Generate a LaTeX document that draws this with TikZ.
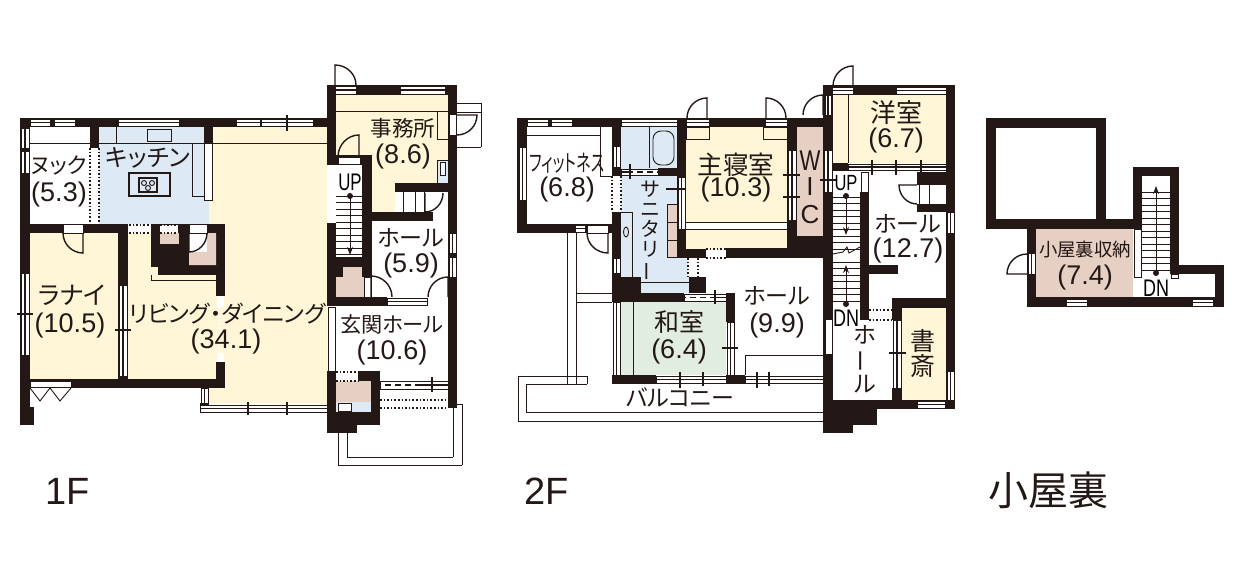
\documentclass[tikz,border=0pt]{standalone}
\usepackage{fontspec}
\setmainfont{Liberation Sans}
\newfontfamily\jpfont{Noto Sans CJK JP}[RawFeature=+palt]
\usetikzlibrary{arrows.meta}
\definecolor{wallc}{HTML}{231815}
\definecolor{roomy}{HTML}{FFF6D8}
\definecolor{roomb}{HTML}{DDE9F5}
\definecolor{roomp}{HTML}{E6CFC3}
\definecolor{roomg}{HTML}{E1EDE0}
\newcommand{\turned}[1]{\rotatebox[origin=c]{90}{#1}}

\begin{document}
\begin{tikzpicture}[x=0.5pt, y=-0.5pt,
  wall/.style = {fill=wallc},
  fine/.style = {draw=wallc, line width=0.45pt},
  winedge/.style = {draw=wallc, line width=0.4pt, fill=white},
  winmid/.style = {draw=wallc, line width=0.7pt},
  opening/.style = {draw=wallc, line width=0.8pt, densely dotted},
  flight/.style = {-{Stealth[length=4pt, width=3pt]}, draw=wallc, line width=0.5pt},
  ja/.style = {inner sep=0pt, text=wallc, font=\jpfont\fontsize{#1}{#1}\selectfont},
  ja/.default = 11.5,
  num/.style = {inner sep=0pt, text=wallc, font=\fontsize{13.5}{13.5}\selectfont},
  tag/.style = {inner sep=0pt, text=wallc, font=\fontsize{19}{19}\selectfont},
  stack/.style = {ja=#1, align=center}]

  \useasboundingbox (0,0) rectangle (1240,572);

  % room colours
  \fill[roomy] (209,127) rectangle (327,404);
  \fill[roomy] (128,233) rectangle (216,379);
  \fill[roomy] (30,233) rectangle (118,379);
  \fill[roomb] (99,127) rectangle (209,224);
  \fill[roomy] (336,95) -- (448,95) -- (448,183) -- (395,183) -- (395,212) -- (372,212) -- (372,155) -- (336,155) -- cycle;
  \fill[roomb] (437,160) rectangle (448,183);
  \fill[roomp] (343,267) -- (364,267) -- (364,297) -- (336,297) -- (336,277) -- (343,277) -- cycle;
  \fill[roomp] (336,381) rectangle (371,402);
  \fill[roomb] (336,402) rectangle (371,412);
  \fill[roomb] (621,127) -- (677,127) -- (677,258) -- (689,258) -- (689,293) -- (621,293) -- cycle;
  \fill[roomy] (686,127) rectangle (787,249);
  \fill[roomp] (797,127) rectangle (823,236);
  \fill[roomy] (833,95) rectangle (946,163);
  \fill[roomg] (621,302) rectangle (726,375);
  \fill[roomy] (902,308) rectangle (946,400);
  \fill[roomp] (1036,229) rectangle (1133,297);

  % walls
  \foreach \xa/\ya/\xb/\yb in {20/118/327/127, 20/118/30/425, 20/407/34/425, 20/224/128/233,
    118/224/128/388, 20/379/225/388, 90/127/99/148, 204/127/213/143, 151/224/225/275,
    216/224/225/296, 216/362/225/388, 327/85/336/165, 327/223/336/306, 327/371/336/433,
    327/85/457/95, 448/85/457/408, 336/155/372/165, 362/155/372/277, 395/183/457/192,
    372/212/433/221, 336/257/362/267, 336/266/343/277, 327/297/387/306, 358/371/380/381,
    371/381/380/425, 327/412/357/433, 357/412/380/425,
    200/403/209/413,
    517/118/686/127, 517/118/527/233, 517/224/612/233, 612/118/621/176, 612/212/621/302,
    612/277/641/302, 689/277/706/293, 612/293/684/302, 677/118/686/258, 677/249/706/258,
    726/248/823/258, 677/118/833/127, 787/118/797/258, 787/236/833/258, 823/85/833/433,
    823/85/955/95, 946/85/955/408, 658/168/686/176, 726/293/735/322, 726/375/745/384,
    612/375/656/384, 833/163/848/171, 860/192/869/320, 892/298/955/308, 892/298/902/320,
    892/388/902/400, 823/400/955/409, 823/400/877/425, 823/400/853/433, 917/172/955/185,
    917/204/955/212, 869/265/898/274,
    986/118/1106/128, 986/118/996/229, 1096/118/1106/229, 986/219/1142/229, 1133/167/1179/176,
    1133/167/1142/229, 1170/167/1179/274, 1170/265/1224/274, 1215/265/1224/307,
    1027/297/1224/307, 1027/229/1036/307}
    \fill[wall] (\xa,\ya) rectangle (\xb,\yb);

  % closets inside the thick block
  \fill[roomp] (160,233) rectangle (179,244);
  \fill[white] (189,233) rectangle (207,252);
  \fill[roomp] (207,233) -- (216,233) -- (216,265) -- (189,265) -- (189,252) -- (207,252) -- cycle;
  \fill[roomy] (151,275) rectangle (216,280);
  \fill[roomy] (151,267) rectangle (158,280);

  % windows along x
  \foreach \xa/\xb/\ya/\yb in {30/50/119/126, 54/75/119/126, 118/179/119/126, 236/313/119/126,
    335/356/86/94, 400/445/86/94, 200/327/405/412, 387/427/298/305, 380/448/381/389,
    527/548/119/126, 551/572/119/126, 621/677/119/126, 575/585/225/232, 621/658/169/175,
    684/726/294/301, 656/726/376/383, 745/823/376/383, 832/853/87/94, 896/946/87/94,
    848/946/164/170, 917/945/401/408, 1066/1087/299/306, 1192/1213/299/306, 686/709/119/126,
    765/787/119/126}
    {\draw[winedge] (\xa,\ya) rectangle (\xb,\yb);
     \draw[winmid] (\xa,{(\ya+\yb)/2}) -- (\xb,{(\ya+\yb)/2});}
  \foreach \xa/\xb/\ya in {381/415/385, 633/658/172, 686/714/297.5}
    \draw[white, line width=0.9pt, dash pattern=on 2pt off 3pt] (\xa,\ya) -- (\xb,\ya);

  % windows along y
  \foreach \xa/\xb/\ya/\yb in {21/29/128/148, 21/29/151/173, 21/29/273/355, 119/127/285/376,
    201/208/388/403, 449/456/233/253, 449/456/257/277, 519/526/147/200, 613/620/146/167,
    613/620/258/273, 678/685/177/229, 613/620/302/375, 727/734/322/375, 788/796/150/220,
    824/832/150/192, 825/831/95/115, 947/954/212/233, 893/901/320/388, 947/954/371/400,
    1028/1035/253/274}
    {\draw[winedge] (\xa,\ya) rectangle (\xb,\yb);
     \draw[winmid] ({(\xa+\xb)/2},\ya) -- ({(\xa+\xb)/2},\yb);}

  % door gaps and slits
  \foreach \xa/\ya/\xb/\yb in {63/224/83/233, 189/224/207/233, 338/157/360/164, 449/114/456/135,
    204/143/212/200, 30/381/71/387, 364/277/371/297, 328/307/335/371, 587/225/608/233,
    861/172/868/192, 825/319/832/354, 1134/229/1141/277, 1171/274/1178/278}
    \draw[winedge] (\xa,\ya) rectangle (\xb,\yb);

  % dotted openings
  \foreach \xa/\ya/\xb/\yb in {90/148/99/224, 612/176/621/212, 688/258/698/277}
    {\fill[white] (\xa,\ya) rectangle (\xb,\yb);
     \draw[opening] (\xa,\ya) -- (\xa,\yb);
     \draw[opening] (\xb,\ya) -- (\xb,\yb);}
  \foreach \xa/\ya/\xb/\yb in {129/225/151/233, 160/225/178/233, 336/372/358/381, 380/400/448/408,
    706/249/726/258, 869/310/892/320}
    {\fill[white] (\xa,\ya) rectangle (\xb,\yb);
     \draw[opening] (\xa,\ya) -- (\xb,\ya);
     \draw[opening] (\xa,\yb) -- (\xb,\yb);}
  \fill[white] (217,296) rectangle (224,307);
  \fill[white] (217,353) rectangle (224,362);
  \draw[white, line width=1pt, densely dotted] (219,307) -- (219,353);

  % fittings and thin lines
  \foreach \xa/\ya/\xb/\yb in {30/143/90/143, 99/143/204/143, 116/127/116/143, 213/143/327/143,
    336/111/448/111, 151/275/151/280, 151/280/216/280,
    457/103/481/103, 481/103/481/147, 457/147/481/147, 457/112/481/112,
    403/192/403/212, 415/192/415/212, 424/192/424/212,
    527/135/600/135, 600/127/600/176, 600/176/612/176, 649/127/649/168, 632/212/632/278,
    621/212/632/212, 641/282/689/282, 633/302/633/375,
    686/222/787/222, 686/229/787/229, 848/95/848/163,
    745/355/823/355, 745/355/745/375,
    919/185/919/204, 929/185/929/204,
    567/233/567/384, 576/233/576/384, 576/293/612/293, 576/302/612/302,
    518/376/587/376, 587/376/587/384, 518/376/518/421, 518/421/823/421,
    526/384/587/384, 526/384/526/412, 526/412/823/412,
    338/433/338/465, 338/465/462/465, 462/465/462/404, 462/404/457/404,
    347/433/347/457, 347/457/453/457, 453/457/453/408}
    \draw[fine] (\xa,\ya) -- (\xb,\yb);

  \draw[fine] (147,129) rectangle (171,141);
  \draw[fine] (192,143) rectangle (204,196);
  \draw[winmid] (129,173) rectangle (170,196);
  \draw[winmid] (139,178) rectangle (157,192);
  \foreach \xa/\ya in {144/183, 152/183, 148/188}
    \draw[fine] (\xa,\ya) circle (2.5);
  \draw[fine] (437,111) rectangle (448,139);
  \draw[fine] (437,160) rectangle (448,183);
  \draw[fine, fill=white!60!roomb] (440,162) rectangle (445,175);
  \draw[fine, fill=white] (338,403) rectangle (351,411);
  \draw[fine, rounded corners=4pt] (653,131) rectangle (674,165);
  \draw[fine] (626,232) ellipse (2.5 and 5);
  \foreach \ya/\yb in {204/222, 222/240, 240/257}
    \draw[fine, fill=roomp] (667,\ya) rectangle (677,\yb);
  \draw[fine, fill=roomy] (686,127) rectangle (709,139);
  \draw[fine, fill=roomy] (763,127) rectangle (787,139);
  \fill[white] (686,222) rectangle (787,229);
  \draw[fine] (686,222) -- (787,222);
  \draw[fine] (686,229) -- (787,229);
  \draw[fine] (30,388) -- (40,401) -- (50,388) -- (60,401) -- (71,388);
  \draw[fine] (833,254) -- (843,252) -- (847,247) -- (849,253) -- (860,247);

  % door swings: hinge, leaf end, free end
  \foreach \cx/\cy/\lx/\ly/\ax/\ay in {83/233/83/253/63/233, 189/233/189/252/207/233,
    335/85/335/65/356/85, 359/157/359/135/338/157, 457/115/477/115/457/135,
    425/193/425/212/443/193, 371/297/371/276/392/297, 448/297/448/277/428/297,
    608/233/608/253/587/233, 707/118/707/98/687/118, 766/118/766/98/786/118,
    823/115/823/95/803/115, 853/86/853/66/833/86, 917/185/899/185/917/204,
    1027/274/1007/274/1027/254}
    \draw[winmid] (\cx,\cy) -- (\lx,\ly)
      .. controls ({\lx+.55*(\ax-\cx)},{\ly+.55*(\ay-\cy)})
      and ({\ax+.55*(\lx-\cx)},{\ay+.55*(\ly-\cy)}) .. (\ax,\ay);

  % stairs
  \foreach \y in {196,202.5,...,257} \draw[fine] (336,\y) -- (362,\y);
  \foreach \y in {197,203.5,...,250} \draw[fine] (833,\y) -- (860,\y);
  \foreach \y in {262,268.5,...,304} \draw[fine] (833,\y) -- (860,\y);
  \foreach \y in {192,198.5,...,272} \draw[fine] (1142,\y) -- (1170,\y);
  \fill[wallc] (350,196) circle (3);
  \draw[flight] (350,196) -- (350,255);
  \fill[wallc] (846,196) circle (3);
  \draw[flight] (846,196) -- (846,235);
  \fill[wallc] (846,304) circle (3);
  \draw[flight] (846,304) -- (846,265);
  \fill[wallc] (1156,273) circle (3);
  \draw[flight] (1156,273) -- (1156,186);

  % ticks across the windows
  \foreach \xa/\ya/\xb/\yb in {17/314/33/314, 115/330/131/330, 287/115/287/131, 261/118/261/127,
    248/402/248/415, 287/402/287/415, 432/377/432/392, 630/164/630/179, 666/189/686/189,
    715/290/715/304, 722/348/738/348, 680/372/680/388, 703/372/703/386, 757/372/757/388,
    769/372/769/386, 783/175/800/175, 783/197/800/197, 820/180/836/180, 872/160/872/175,
    896/160/896/175, 921/160/921/175, 889/353/906/353}
    \draw[winmid] (\xa,\ya) -- (\xb,\yb);

  % 1F labels
  \node[ja=11] (nook) at (59,165) {ヌック};
  \node[num] (nookarea) at (59,195) {(5.3)};
  \node[ja=12] (kitchen) at (148,158) {キッチン};
  \node[ja=12.5] (lanai) at (72,295) {ラナイ};
  \node[num] (lanaiarea) at (70,326) {(10.5)};
  \node[ja=11.5] (living) at (227,314) {リビング・ダイニング};
  \node[num] (livingarea) at (226,342) {(34.1)};
  \node[ja=10.8] (office) at (403,128) {事務所};
  \node[num] (officearea) at (403,157) {(8.6)};
  \node[inner sep=0pt, font=\fontsize{12}{12}\selectfont] (upa) at (350,182) {\scalebox{0.7}[1]{UP}};
  \node[ja=11.5] (halla) at (411,238) {ホール};
  \node[num] (hallaarea) at (411,266) {(5.9)};
  \node[ja=10.6] (entry) at (392,325) {玄関ホール};
  \node[num] (entryarea) at (392,353) {(10.6)};
  \node[tag] (floora) at (68,491) {1F};

  % 2F labels
  \node[ja=11.5] (fitness) at (567,163) {\scalebox{0.65}[1]{フィットネス}};
  \node[num] (fitnessarea) at (567,190) {(6.8)};
  \node[stack=10] (sanitary) at (650,231) {サ\\ニ\\タ\\リ\\\turned{ー}};
  \node[ja=12.8] (bedroom) at (736,165) {主寝室};
  \node[num] (bedroomarea) at (736,190) {(10.3)};
  \node[inner sep=0pt, text=wallc, font=\fontsize{13}{13}\selectfont] (wicw) at (810,161) {\scalebox{0.85}[1.1]{W}};
  \node[inner sep=0pt, text=wallc, font=\fontsize{13}{13}\selectfont] (wici) at (810,187) {I};
  \node[inner sep=0pt, text=wallc, font=\fontsize{13}{13}\selectfont] (wicc) at (810,215) {C};
  \node[ja=13] (west) at (896,113) {洋室};
  \node[num] (westarea) at (896,141) {(6.7)};
  \node[inner sep=0pt, font=\fontsize{11}{11}\selectfont] (upb) at (846,183) {\scalebox{0.75}[1]{UP}};
  \node[ja=11.5] (hallb) at (908,224) {ホール};
  \node[num] (hallbarea) at (908,251) {(12.7)};
  \node[ja=11.5] (hallc) at (777,296) {ホール};
  \node[num] (hallcarea) at (777,326) {(9.9)};
  \node[ja=12.5] (washitsu) at (679,322) {和室};
  \node[num] (washitsuarea) at (679,352) {(6.4)};
  \node[ja=11.5] (balcony) at (680,397) {バルコニー};
  \node[inner sep=0pt, font=\fontsize{12}{12}\selectfont] (dna) at (846,318) {\scalebox{0.75}[1]{DN}};
  \node[stack=11.5] (halld) at (865,359) {ホ\\\turned{ー}\\ル};
  \node[stack=12.5] (study) at (923,354) {書\\斎};
  \node[tag] (floorb) at (547,491) {2F};

  % attic labels
  \node[ja=9.2] (attic) at (1085,250) {小屋裏収納};
  \node[num] (atticarea) at (1085,278) {(7.4)};
  \node[inner sep=0pt, font=\fontsize{12}{12}\selectfont] (dnb) at (1156,288) {\scalebox{0.75}[1]{DN}};
  \node[ja=20] (floorc) at (1048,490) {小屋裏};
\end{tikzpicture}
\end{document}
